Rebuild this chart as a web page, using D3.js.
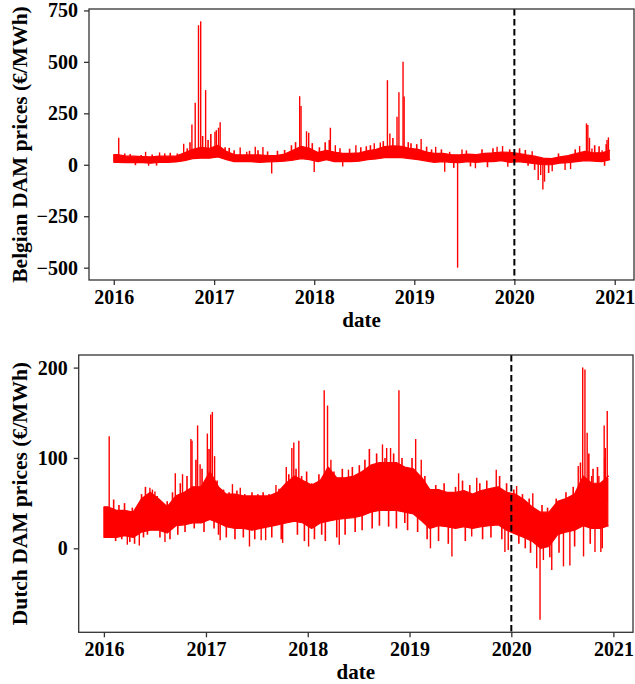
<!DOCTYPE html>
<html>
<head>
<meta charset="utf-8">
<script src="https://cdn.jsdelivr.net/npm/d3@7"></script>
<style>
  body { margin: 0; background: #fff; }
  svg { display: block; }
  text { font-family: "Liberation Serif", "Times New Roman", serif; font-weight: bold; fill: #000; }
</style>
</head>
<body>
<svg id="chart" width="635" height="684"></svg>
<script>
// Hourly day-ahead prices, summarised as the dense monthly band (low/high),
// the bulk of short excursions around it, and the large single-hour spikes.
const seriesStart = "2016-01-01";
const seriesEnd = "2020-12-12";
const splitDate = "2020-01-01";

const months = [
  "2016-01","2016-02","2016-03","2016-04","2016-05","2016-06","2016-07","2016-08","2016-09","2016-10","2016-11","2016-12",
  "2017-01","2017-02","2017-03","2017-04","2017-05","2017-06","2017-07","2017-08","2017-09","2017-10","2017-11","2017-12",
  "2018-01","2018-02","2018-03","2018-04","2018-05","2018-06","2018-07","2018-08","2018-09","2018-10","2018-11","2018-12",
  "2019-01","2019-02","2019-03","2019-04","2019-05","2019-06","2019-07","2019-08","2019-09","2019-10","2019-11","2019-12",
  "2020-01","2020-02","2020-03","2020-04","2020-05","2020-06","2020-07","2020-08","2020-09","2020-10","2020-11","2020-12"
];

// ---------- Belgium (€/MWh) ----------
const beLow = [12,10,12,10,8,12,12,14,20,30,32,32, 38,25,15,15,15,12,14,15,18,22,30,25,
               15,25,15,15,15,18,25,28,35,35,35,30, 25,18,12,15,12,10,15,12,15,15,20,12,
               15,10,5,0,0,8,10,15,20,18,15,25];
const beHigh = [50,42,42,40,38,42,42,42,58,75,85,80, 95,65,50,48,48,48,45,45,52,70,90,80,
                60,70,62,55,55,58,68,75,88,92,90,80, 75,62,55,55,50,48,52,50,55,58,62,60,
                55,48,42,32,30,38,45,55,65,58,58,70];
const beSpikeDates = [
  "2016-01-19","2016-04-26","2016-05-07","2016-06-16","2016-09-12","2016-10-12","2016-10-24","2016-11-05",
  "2016-11-13","2016-12-01","2017-01-04","2017-01-09","2017-01-17","2017-01-23","2017-04-06","2017-04-30",
  "2017-05-31","2017-06-28","2017-07-30","2017-11-09","2017-11-14","2017-12-04","2017-12-12","2018-01-01",
  "2018-03-01","2018-03-19","2018-04-15","2018-06-02","2018-08-08","2018-08-30","2018-09-25","2018-10-04",
  "2018-10-30","2018-11-06","2018-11-21","2018-11-25","2019-01-26","2019-03-20","2019-04-22","2019-05-10",
  "2019-06-08","2019-06-24","2019-08-12","2019-10-30","2019-11-19","2019-12-08","2020-03-06","2020-03-28",
  "2020-04-06","2020-04-14","2020-04-20","2020-05-18","2020-07-04","2020-07-24","2020-08-26","2020-09-20",
  "2020-09-25","2020-10-01","2020-10-10","2020-11-16","2020-12-04","2020-12-09"
];
const beSpikeValues = [
  131,63,-5,60,102,196,301,678,
  697,363,160,168,180,207,84,63,
  87,86,-42,333,285,163,155,-35,
  180,95,-8,95,104,108,411,152,
  233,352,500,332,125,87,-34,63,
  -500,74,-17,87,91,-10,66,-74,
  -50,-120,-82,-31,-26,-21,91,201,
  193,131,79,71,120,133
];
const beMinorDates = [
  "2016-02-10","2016-03-01","2016-03-20","2016-04-10","2016-05-20","2016-06-05","2016-07-05","2016-07-25",
  "2016-08-20","2016-09-25","2016-10-05","2016-11-20","2016-12-10","2016-12-20","2017-02-10","2017-02-25",
  "2017-03-15","2017-05-10","2017-06-10","2017-07-15","2017-08-20","2017-09-15","2017-10-10","2017-10-25",
  "2017-12-25","2018-01-20","2018-02-10","2018-02-25","2018-04-05","2018-05-10","2018-06-20","2018-07-10",
  "2018-07-25","2018-09-10","2018-10-15","2018-12-10","2018-12-20","2019-01-10","2019-02-15","2019-03-05",
  "2019-04-10","2019-05-25","2019-07-10","2019-07-25","2019-09-05","2019-09-25","2019-10-15","2019-12-15",
  "2020-01-20","2020-02-10","2020-02-20","2020-03-15","2020-05-05","2020-06-10","2020-08-10","2020-10-20",
  "2020-11-05","2020-11-25","2020-12-01"
];
const beMinorValues = [
  55,52,-2,48,50,-4,55,58,
  55,80,110,140,120,150,85,82,
  70,68,70,65,68,72,95,110,
  105,85,110,120,80,78,85,90,
  95,115,130,110,105,100,88,75,
  75,-15,70,-8,75,-12,80,75,
  80,72,-5,-25,-40,55,75,95,
  90,-5,100
];

// ---------- Netherlands (€/MWh) ----------
const nlLow = [12,12,14,12,18,20,20,17,25,26,28,28, 32,28,24,22,22,20,22,24,26,28,30,28,
               22,28,30,32,33,34,36,40,42,42,42,40, 38,30,22,25,24,22,24,22,24,25,26,20,
               16,12,8,0,2,15,18,20,25,22,22,25];
const nlHigh = [46,42,42,40,55,62,55,46,58,62,68,68, 85,68,60,60,58,58,58,58,62,72,80,75,
                70,75,90,78,78,80,85,92,95,95,95,90, 88,78,65,65,62,62,64,60,64,66,68,62,
                60,54,46,40,40,52,55,60,80,72,72,80];
const nlSpikeDates = [
  "2016-01-20","2016-03-25","2016-05-07","2016-06-14","2016-06-23","2016-07-02","2016-08-07","2016-09-13",
  "2016-10-09","2016-11-08","2016-11-12","2016-12-02","2016-12-11","2017-01-06","2017-01-18","2017-01-24",
  "2017-02-01","2017-02-21","2017-04-06","2017-05-04","2017-06-06","2017-07-06","2017-07-18","2017-08-03",
  "2017-09-09","2017-10-03","2017-10-16","2017-11-05","2017-11-12","2017-11-30","2018-01-04","2018-03-01",
  "2018-03-13","2018-03-25","2018-04-24","2018-05-27","2018-09-26","2018-10-11","2018-10-25","2018-11-24",
  "2019-01-23","2019-02-12","2019-03-17","2019-06-02","2019-06-26","2019-08-12","2019-08-30","2019-11-08",
  "2019-12-09","2019-12-21","2020-01-20","2020-03-18","2020-04-01","2020-04-13","2020-04-25","2020-05-25",
  "2020-07-06","2020-07-29","2020-08-28","2020-09-13","2020-09-16","2020-09-21","2020-09-29","2020-10-15",
  "2020-10-27","2020-11-10","2020-11-17","2020-11-29","2020-12-03","2020-12-10"
];
const nlSpikeValues = [
  124,4,3,67,65,63,7,83,
  82,121,119,136,93,127,148,151,
  102,9,71,67,2,60,9,9,
  70,6,90,111,117,119,2,175,
  158,98,4,87,115,111,111,175,
  121,98,0,-9,83,13,78,87,
  -4,-2,69,61,-22,-79,-13,-24,
  -20,-19,91,200,-9,198,128,80,
  -4,80,-4,136,111,152
];
const nlMinorDates = [
  "2016-02-05","2016-02-12","2016-02-24","2016-03-05","2016-03-15","2016-04-03","2016-04-12","2016-04-20",
  "2016-05-15","2016-05-22","2016-05-29","2016-06-05","2016-07-10","2016-07-20","2016-08-15","2016-08-25",
  "2016-09-03","2016-09-22","2016-10-01","2016-10-18","2016-10-25","2016-11-20","2016-11-26","2016-12-18",
  "2016-12-25","2017-01-12","2017-01-30","2017-02-10","2017-02-15","2017-03-05","2017-03-15","2017-03-25",
  "2017-04-15","2017-04-22","2017-05-15","2017-05-20","2017-06-15","2017-06-25","2017-07-25","2017-08-15",
  "2017-08-25","2017-09-20","2017-09-28","2017-10-25","2017-11-20","2017-11-25","2017-12-10","2017-12-20",
  "2017-12-28","2018-01-15","2018-01-25","2018-02-10","2018-02-20","2018-03-05","2018-04-05","2018-04-15",
  "2018-05-05","2018-05-15","2018-06-10","2018-06-20","2018-07-05","2018-07-15","2018-07-25","2018-08-10",
  "2018-08-20","2018-09-05","2018-09-15","2018-10-05","2018-10-18","2018-11-05","2018-11-15","2018-12-05",
  "2018-12-15","2018-12-25","2019-01-10","2019-01-30","2019-02-25","2019-03-05","2019-04-05","2019-04-15",
  "2019-05-05","2019-05-20","2019-06-15","2019-07-10","2019-07-20","2019-08-05","2019-09-10","2019-09-20",
  "2019-10-05","2019-10-20","2019-11-20","2019-11-28","2019-12-15","2020-01-10","2020-01-28","2020-02-10",
  "2020-02-20","2020-03-05","2020-03-10","2020-04-20","2020-05-10","2020-05-18","2020-06-10","2020-06-20",
  "2020-07-15","2020-08-10","2020-08-15","2020-09-05","2020-10-05","2020-10-10","2020-10-20","2020-11-05",
  "2020-11-22","2020-12-01"
];
const nlMinorValues = [
  54,8,48,10,50,7,45,5,
  60,12,68,15,58,12,52,10,
  62,15,72,18,80,22,98,88,
  18,110,22,75,15,65,12,62,
  10,64,12,60,62,10,62,60,
  12,66,10,82,88,15,80,8,
  85,72,10,82,15,8,85,12,
  88,15,90,18,92,20,98,110,
  22,105,25,100,24,105,22,100,
  28,20,100,18,80,10,70,8,
  72,5,68,75,8,70,72,10,
  75,12,80,10,72,65,5,60,
  0,55,-5,48,45,-10,55,-5,
  62,68,2,95,105,5,88,90,
  0,100
];

const beTicks = [-500, -250, 0, 250, 500, 750];
const nlTicks = [0, 100, 200];
const yearTicks = ["2016","2017","2018","2019","2020","2021"];

const svg = d3.select("#chart");
const parseDay = d3.timeParse("%Y-%m-%d");
const parseMonth = d3.timeParse("%Y-%m");
const parseYear = d3.timeParse("%Y");
const fmtMinus = v => (v < 0 ? "\u2212" + Math.abs(v) : String(v));

function drawPanel(p) {
  const start = parseDay(seriesStart), end = parseDay(seriesEnd);
  const xPad = (end - start) * 0.05;
  const x = d3.scaleTime()
    .domain([new Date(+start - xPad), new Date(+end + xPad)])
    .range([p.box.left, p.box.right]);

  const all = p.low.concat(p.high, p.spikeValues, p.minorValues);
  const [mn, mx] = d3.extent(all);
  const yPad = (mx - mn) * 0.05;
  const y = d3.scaleLinear().domain([mn - yPad, mx + yPad]).range([p.box.bottom, p.box.top]);

  // band points: month centres, carried out to the first and last hour
  const band = months.map((m, i) => ({ date: d3.timeDay.offset(parseMonth(m), 14), lo: p.low[i], hi: p.high[i] }));
  band.unshift({ date: start, lo: p.low[0], hi: p.high[0] });
  band.push({ date: end, lo: p.low[p.low.length - 1], hi: p.high[p.high.length - 1] });

  const g = svg.append("g");

  g.append("path")
    .datum(band)
    .attr("fill", "#ff0000")
    .attr("stroke", "#ff0000")
    .attr("stroke-width", 1.2)
    .attr("stroke-linejoin", "bevel")
    .attr("d", d3.area().x(d => x(d.date)).y0(d => y(d.lo)).y1(d => y(d.hi)));

  // excursions leaving the band, drawn from the band centre
  const bis = d3.bisector(d => d.date).left;
  const mid = dt => {
    const i = Math.max(1, Math.min(band.length - 1, bis(band, dt)));
    const a = band[i - 1], b = band[i];
    const t = (dt - a.date) / (b.date - a.date);
    return ((a.lo + a.hi) / 2) * (1 - t) + ((b.lo + b.hi) / 2) * t;
  };
  const toPts = (ds, vs) => ds.map((s, i) => ({ date: parseDay(s), v: vs[i] }));
  const drawSpikes = (pts, w) => g.append("g").selectAll("line")
    .data(pts)
    .join("line")
    .attr("x1", d => x(d.date)).attr("x2", d => x(d.date))
    .attr("y1", d => y(mid(d.date))).attr("y2", d => y(d.v))
    .attr("stroke", "#ff0000")
    .attr("stroke-width", w);
  drawSpikes(toPts(p.minorDates, p.minorValues), 1.6);
  drawSpikes(toPts(p.spikeDates, p.spikeValues), 1.4);

  // train / test split
  const xs = x(parseDay(splitDate));
  g.append("line")
    .attr("x1", xs).attr("x2", xs)
    .attr("y1", p.box.top).attr("y2", p.box.bottom)
    .attr("stroke", "#000")
    .attr("stroke-width", 2)
    .attr("stroke-dasharray", "6.5,3.5");

  // frame
  g.append("rect")
    .attr("x", p.box.left).attr("y", p.box.top)
    .attr("width", p.box.right - p.box.left).attr("height", p.box.bottom - p.box.top)
    .attr("fill", "none").attr("stroke", "#333").attr("stroke-width", 1.3);

  const xAxis = d3.axisBottom(x)
    .tickValues(yearTicks.map(parseYear))
    .tickFormat(d3.timeFormat("%Y"))
    .tickSize(5).tickPadding(5);
  const gx = g.append("g").attr("transform", `translate(0,${p.box.bottom})`).call(xAxis)
    .attr("font-family", null).attr("font-size", null);
  gx.select(".domain").remove();
  gx.selectAll(".tick line").attr("stroke", "#333").attr("stroke-width", 1.3);
  gx.selectAll(".tick text").attr("font-size", 20);

  const yAxis = d3.axisLeft(y).tickValues(p.yTicks).tickFormat(fmtMinus).tickSize(5).tickPadding(6);
  const gy = g.append("g").attr("transform", `translate(${p.box.left},0)`).call(yAxis)
    .attr("font-family", null).attr("font-size", null);
  gy.select(".domain").remove();
  gy.selectAll(".tick line").attr("stroke", "#333").attr("stroke-width", 1.3);
  gy.selectAll(".tick text").attr("font-size", 20);

  g.append("text")
    .attr("transform", `translate(${p.titleX},${(p.box.top + p.box.bottom) / 2}) rotate(-90)`)
    .attr("text-anchor", "middle")
    .attr("font-size", 21.5)
    .text(p.title);

  g.append("text")
    .attr("x", (p.box.left + p.box.right) / 2)
    .attr("y", p.dateY)
    .attr("text-anchor", "middle")
    .attr("font-size", 21)
    .text("date");
}

drawPanel({
  box: { left: 89, right: 634, top: 9, bottom: 280 },
  low: beLow, high: beHigh,
  spikeDates: beSpikeDates, spikeValues: beSpikeValues,
  minorDates: beMinorDates, minorValues: beMinorValues,
  yTicks: beTicks, title: "Belgian DAM prices (\u20AC/MWh)", titleX: 27, dateY: 327
});
drawPanel({
  box: { left: 78.7, right: 633, top: 355, bottom: 632.3 },
  low: nlLow, high: nlHigh,
  spikeDates: nlSpikeDates, spikeValues: nlSpikeValues,
  minorDates: nlMinorDates, minorValues: nlMinorValues,
  yTicks: nlTicks, title: "Dutch DAM prices (\u20AC/MWh)", titleX: 27, dateY: 679
});
</script>
</body>
</html>
